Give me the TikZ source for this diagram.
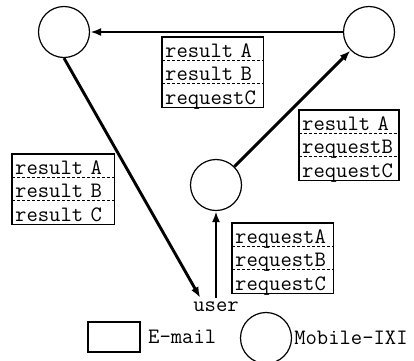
\documentclass[tikz,border=0pt]{standalone}
\usepackage{tikz}
\usetikzlibrary{arrows.meta,positioning}

\newcommand{\msgfont}{\fontsize{22}{25}\selectfont\ttfamily}

\begin{document}
\begin{tikzpicture}[x=1pt,y=-1pt,
        station/.style={circle,draw,line width=1.2pt,minimum size=51pt,inner sep=0pt},
        msg/.style={anchor=north west,text width=#1,minimum height=23pt,inner xsep=3pt,inner ysep=0pt,
            text height=20pt,text depth=3pt,font=\msgfont},
        mailbox/.style={line width=1.3pt},
        sep/.style={densely dashed,line width=0.8pt},
        flow/.style={line width=2.9pt,-{Latex[length=11pt,width=8pt]}}]
            \useasboundingbox (0,0) rectangle (414,360);
            % Mobile-IXI stations
            \node[station] (tl) at (64,32) {};
            \node[station] (tr) at (369,32) {};
            \node[station] (mid) at (216,185) {};
            \node[font=\msgfont,inner xsep=2pt,inner ysep=4pt,text depth=0pt] (user) at (216,307) {user};
            % mail on the top edge
            \node[msg=95pt] (t1) at (162,37) {result A};
            \node[msg=95pt,below=0pt of t1] (t2) {result B};
            \node[msg=95pt,below=0pt of t2] (t3) {requestC};
            \draw[mailbox] (t1.north west) rectangle (t3.south east);
            \draw[sep] (t1.south west) -- (t1.south east);
            \draw[sep] (t2.south west) -- (t2.south east);
            % mail on the right edge
            \node[msg=93.5pt] (r1) at (299,110) {result A};
            \node[msg=93.5pt,below=0pt of r1] (r2) {requestB};
            \node[msg=93.5pt,below=0pt of r2] (r3) {requestC};
            \draw[mailbox] (r1.north west) rectangle (r3.south east);
            \draw[sep] (r1.south west) -- (r1.south east);
            \draw[sep] (r2.south west) -- (r2.south east);
            % mail on the left edge
            \node[msg=96pt] (l1) at (12,154) {result A};
            \node[msg=96pt,below=0pt of l1] (l2) {result B};
            \node[msg=96pt,below=0pt of l2] (l3) {result C};
            \draw[mailbox] (l1.north west) rectangle (l3.south east);
            \draw[sep] (l1.south west) -- (l1.south east);
            \draw[sep] (l2.south west) -- (l2.south east);
            % mail from the user
            \node[msg=95pt] (b1) at (232,223) {requestA};
            \node[msg=95pt,below=0pt of b1] (b2) {requestB};
            \node[msg=95pt,below=0pt of b2] (b3) {requestC};
            \draw[mailbox] (b1.north west) rectangle (b3.south east);
            \draw[sep] (b1.south west) -- (b1.south east);
            \draw[sep] (b2.south west) -- (b2.south east);
            % connectors
            \draw[flow] (tr.west) -- (tl.east);
            \draw[flow] (tl.south) -- (user.150);
            \draw[flow] (user.north) -- (mid.south);
            \draw[flow] (mid.north east) -- (tr.south west);
            % key
            \node[draw,mailbox,minimum width=52pt,minimum height=30pt] (keybox) at (114,337) {};
            \node[font=\msgfont,right=4pt of keybox] (keymail) {E-mail};
            \node[station] (keyst) at (266,338) {};
            \node[font=\msgfont,inner xsep=0pt,right=2pt of keyst] (keyixi) {Mobile-IXI};
        \end{tikzpicture}
\end{document}
